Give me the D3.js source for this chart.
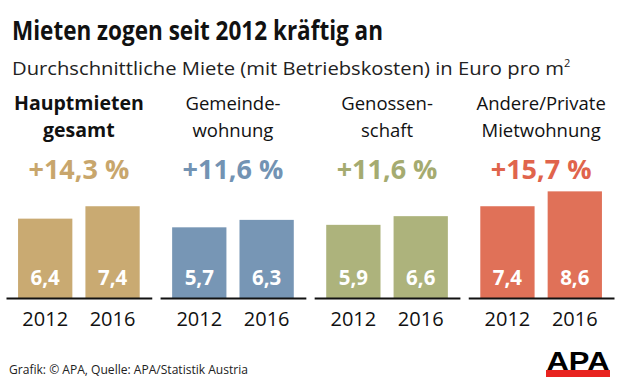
<!DOCTYPE html>
<html>
<head>
<meta charset="utf-8">
<script src="https://cdn.jsdelivr.net/npm/d3@7"></script>
<style>
  html, body { margin: 0; padding: 0; background: #fff; }
  svg { display: block; font-family: "Open Sans", "Noto Sans", sans-serif; }
</style>
</head>
<body>
<div id="chart"></div>
<script>
// Daten
const categories = [["Hauptmieten", "gesamt"], ["Gemeinde-", "wohnung"], ["Genossen-", "schaft"], ["Andere/Private", "Mietwohnung"]];
const years = ["2012", "2016"];
const values2012 = [6.4, 5.7, 5.9, 7.4];
const values2016 = [7.4, 6.3, 6.6, 8.6];
const changes = ["+14,3 %", "+11,6 %", "+11,6 %", "+15,7 %"];
const barColors = ["#c9aa72", "#7796b5", "#adb37c", "#e07158"];
const textColors = ["#c8a66c", "#7393b3", "#a5ab70", "#e0644c"];

const width = 620, height = 388;
const svg = d3.select("#chart").append("svg")
  .attr("width", width).attr("height", height);

// Titel
svg.append("text").attr("x", 12).attr("y", 40)
  .attr("font-size", 26).attr("font-weight", "bold").attr("fill", "#111")
  .attr("textLength", 371).attr("lengthAdjust", "spacingAndGlyphs")
  .text("Mieten zogen seit 2012 kräftig an");

const sub = svg.append("text").attr("x", 12).attr("y", 75)
  .attr("font-size", 19).attr("fill", "#222");
sub.append("tspan").attr("textLength", 552).attr("lengthAdjust", "spacingAndGlyphs")
  .text("Durchschnittliche Miete (mit Betriebskosten) in Euro pro m");
sub.append("tspan").attr("font-size", 11).attr("dy", -8).text("2");

// Panels
const panelX = d3.scaleBand().domain(d3.range(4)).range([6, 614]).paddingInner(0.054);
const barX = d3.scaleBand().domain(years).range([0, panelX.bandwidth()]).paddingInner(0.194).paddingOuter(0.179);
const baseY = 298;
const y = d3.scaleLinear().domain([0, 10]).range([baseY, baseY - 124]);

const fmt = v => d3.format(".1f")(v).replace(".", ",");

categories.forEach((cat, i) => {
  const g = svg.append("g").attr("transform", `translate(${panelX(i)},0)`);
  const cx = panelX.bandwidth() / 2;
  const label = g.append("text").attr("text-anchor", "middle")
    .attr("font-size", i === 0 ? 19.5 : 18.5).attr("fill", "#111")
    .attr("font-weight", i === 0 ? "bold" : "normal");
  cat.forEach((line, j) => {
    label.append("tspan").attr("x", cx).attr("y", 110 + j * 27).text(line);
  });

  g.append("text").attr("x", cx).attr("y", 179).attr("text-anchor", "middle")
    .attr("font-size", 27).attr("font-weight", "bold").attr("fill", textColors[i])
    .text(changes[i]);

  const vals = [values2012[i], values2016[i]];
  g.selectAll("rect").data(vals).join("rect")
    .attr("x", (d, k) => barX(years[k]))
    .attr("width", barX.bandwidth())
    .attr("y", d => y(d))
    .attr("height", d => baseY - y(d))
    .attr("fill", barColors[i]);

  g.selectAll("text.val").data(vals).join("text").attr("class", "val")
    .attr("x", (d, k) => barX(years[k]) + barX.bandwidth() / 2)
    .attr("y", 285).attr("text-anchor", "middle")
    .attr("font-size", 20.5).attr("font-weight", "bold").attr("fill", "#fff")
    .text(fmt);

  const axis = d3.axisBottom(barX).tickSize(0).tickPadding(14);
  const ax = g.append("g").attr("transform", `translate(0,${baseY})`).call(axis);
  ax.select(".domain").attr("stroke", "#111").attr("stroke-width", 2);
  ax.selectAll("text").attr("font-size", 20).attr("fill", "#111")
    .attr("font-family", "'Open Sans', sans-serif");
});

// Fußzeile
svg.append("text").attr("x", 9).attr("y", 374)
  .attr("font-size", 13.5).attr("fill", "#222")
  .attr("textLength", 239).attr("lengthAdjust", "spacingAndGlyphs")
  .text("Grafik: © APA, Quelle: APA/Statistik Austria");

// APA Logo
svg.append("rect").attr("x", 546).attr("y", 370).attr("width", 64).attr("height", 7).attr("fill", "#e8231f");
svg.append("text").attr("x", 578).attr("y", 370).attr("text-anchor", "middle")
  .attr("font-size", 25).attr("font-weight", 900).attr("fill", "#000")
  .attr("font-family", "'Liberation Sans', Arial, sans-serif")
  .attr("textLength", 63).attr("lengthAdjust", "spacingAndGlyphs")
  .text("APA");
</script>
</body>
</html>
